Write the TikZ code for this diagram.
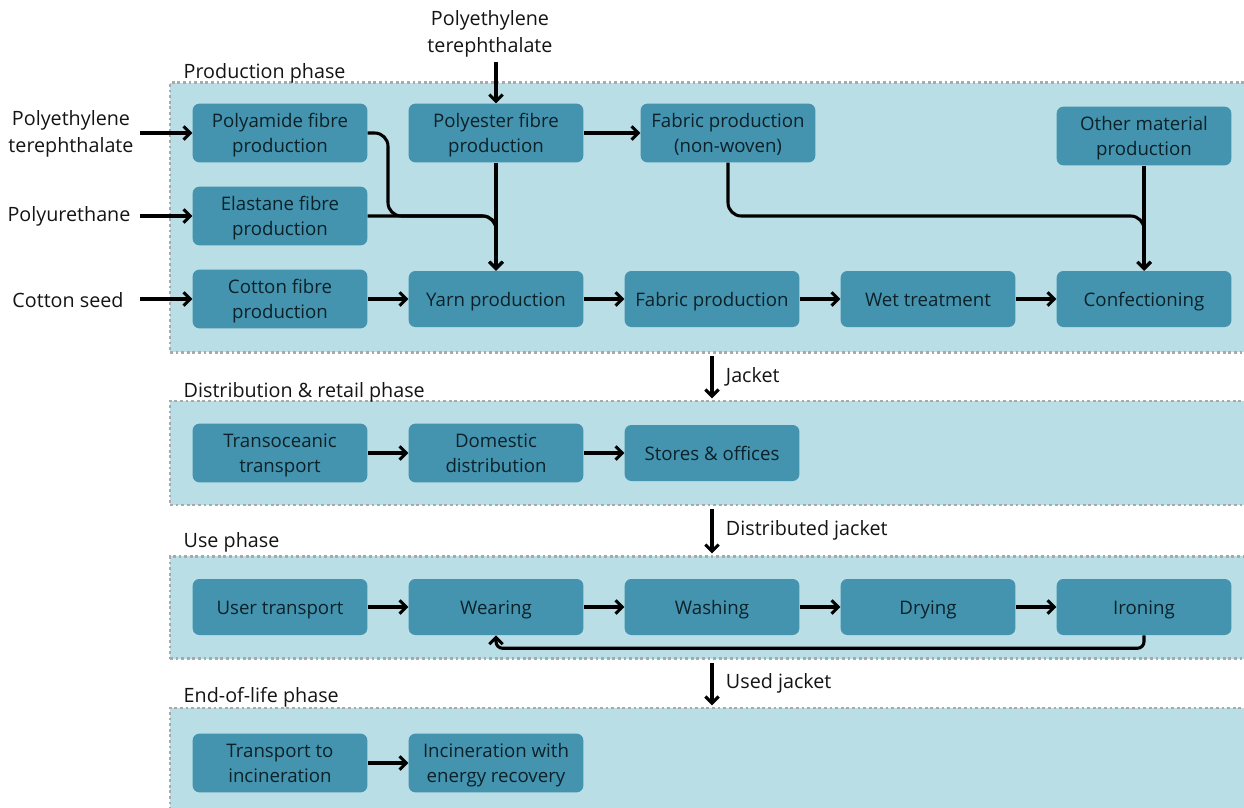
\documentclass[tikz,border=0pt]{standalone}
\usepackage{fontspec}
\setmainfont{Open Sans}
\usetikzlibrary{arrows.meta, positioning}

\definecolor{phasebg}{HTML}{B9DEE5}
\definecolor{boxfill}{HTML}{4494B0}
\definecolor{boxtext}{HTML}{0C2128}
\definecolor{dotgray}{HTML}{A9A9A9}

\tikzset{
  proc/.style={fill=boxfill, rounded corners=5pt, text=boxtext, align=center,
    minimum width=131pt, minimum height=44pt, inner sep=0pt, text depth=0pt},
  procone/.style={proc, minimum height=42pt, text height=11.5pt, text depth=0pt},
  phasebox/.style={fill=phasebg, draw=dotgray, line width=2.1pt,
    dash pattern=on 2.1pt off 2.1pt, minimum width=810pt, inner sep=0pt},
  flow/.style={line width=2.3pt, -{Straight Barb[length=5pt,width=10pt,line width=2.3pt]}},
  plain/.style={text=black!92, align=center, font=\fontsize{14.8}{20}\selectfont},
}

\begin{document}
\begin{tikzpicture}[x=0.75pt, y=-0.75pt, font=\fontsize{14}{18.75}\selectfont]
  \clip (0,0) rectangle (1244,807);

  % phases
  \node[phasebox, minimum height=202pt] (prod) at (710,217.5) {};
  \node[phasebox, minimum height=78pt] (dist) at (710,453) {};
  \node[phasebox, minimum height=77pt] (use) at (710,607.5) {};
  \node[phasebox, minimum height=78pt] (eol) at (710,760) {};

  \node[plain, anchor=base west] (prodlbl) at (179,78) {Production phase};
  \node[plain, anchor=base west] (distlbl) at (179,397) {Distribution \& retail phase};
  \node[plain, anchor=base west] (uselbl) at (179,547) {Use phase};
  \node[plain, anchor=base west] (eollbl) at (179,702) {End-of-life phase};

  % production
  \node[proc] (pa) at (280,133) {Polyamide fibre\\production};
  \node[proc] (el) at (280,216) {Elastane fibre\\production};
  \node[proc] (co) at (280,299) {Cotton fibre\\production};
  \node[proc] (pe) at (496,133) {Polyester fibre\\production};
  \node[proc] (fnw) at (728,133) {Fabric production\\(non-woven)};
  \node[proc] (om) at (1144,136) {Other material\\production};
  \node[procone] (yarn) at (496,299) {Yarn production};
  \node[procone] (fab) at (712,299) {Fabric production};
  \node[procone] (wet) at (928,299) {Wet treatment};
  \node[procone] (conf) at (1144,299) {Confectioning};

  \node[plain] (petl) at (71,134) {Polyethylene\\terephthalate};
  \node[plain] (pur) at (69,216) {Polyurethane};
  \node[plain] (seed) at (68,300) {Cotton seed};
  \node[plain] (pett) at (490,34) {Polyethylene\\terephthalate};

  \coordinate (j1) at (388,216);
  \coordinate (j2) at (1144,216);

  \draw[flow] (pa.west -| 140,0) -- (pa.west);
  \draw[flow] (el.west -| 140,0) -- (el.west);
  \draw[flow] (co.west -| 140,0) -- (co.west);
  \draw[flow] (pe.north |- pett.south) -- (pe.north);
  \draw[flow] (pe) -- (yarn);
  \draw[flow, rounded corners=10pt] (pa.east) -| (j1) -| (yarn.north);
  \draw[flow, rounded corners=10pt] (el.east) -| (yarn.north);
  \draw[flow] (pe.east) -- (fnw.west);
  \draw[flow, rounded corners=10pt] (fnw.south) |- (j2) -- (conf.north);
  \draw[flow] (om) -- (conf);
  \draw[flow] (co) -- (yarn);
  \foreach \a/\b in {yarn/fab, fab/wet, wet/conf}
    \draw[flow] (\a) -- (\b);

  % distribution
  \node[proc] (tro) at (280,453) {Transoceanic\\transport};
  \node[proc] (dom) at (496,453) {Domestic\\distribution};
  \node[procone] (sto) at (712,453) {Stores \& offices};
  \draw[flow] (tro) -- (dom);
  \draw[flow] (dom) -- (sto);

  % use
  \node[procone] (utr) at (280,607) {User transport};
  \node[procone] (wear) at (496,607) {Wearing};
  \node[procone] (wash) at (712,607) {Washing};
  \node[procone] (dry) at (928,607) {Drying};
  \node[procone] (iron) at (1144,607) {Ironing};
  \foreach \a/\b in {utr/wear, wear/wash, wash/dry, dry/iron}
    \draw[flow] (\a) -- (\b);
  \draw[flow, rounded corners=5pt] (iron.south) -- ++(0,13) -| (wear.south);

  % end of life
  \node[proc] (tin) at (280,763) {Transport to\\incineration};
  \node[proc] (inc) at (496,763) {Incineration with\\energy recovery};
  \draw[flow] (tin) -- (inc);

  % between phases
  \draw[flow, shorten <=2pt, shorten >=1pt] (prod.south -| fab) -- node[plain, right=6pt] (jk) {Jacket} (dist.north -| fab);
  \draw[flow, shorten <=2pt, shorten >=1pt] (dist.south -| fab) -- node[plain, right=6pt] (djk) {Distributed jacket} (use.north -| fab);
  \draw[flow, shorten <=2pt, shorten >=1pt] (use.south -| fab) -- node[plain, right=6pt] (ujk) {Used jacket} (eol.north -| fab);
\end{tikzpicture}
\end{document}
